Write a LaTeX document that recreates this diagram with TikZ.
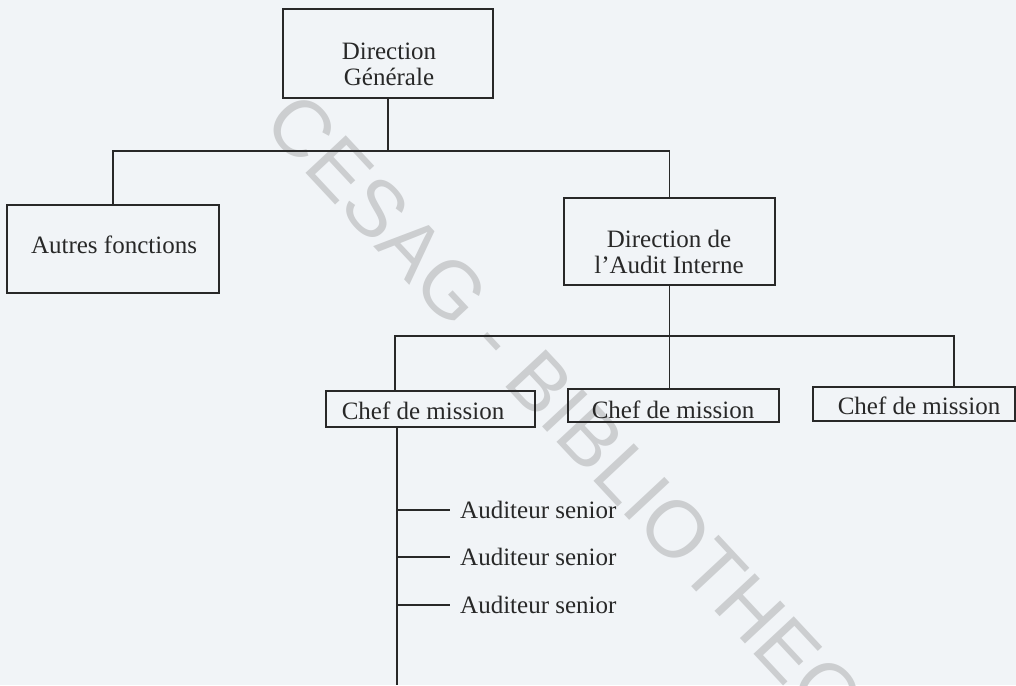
\documentclass[tikz,border=0pt]{standalone}
\usepackage{fontspec}
\setmainfont{Liberation Serif}
\newfontfamily\wmfont{Liberation Sans}
\definecolor{bgc}{RGB}{241,244,247}
\definecolor{ink}{RGB}{40,40,40}
\definecolor{wm}{RGB}{204,206,208}
\begin{document}
\begin{tikzpicture}[x=1pt,y=-1pt,
  box/.style={draw=ink, line width=1.5pt, rectangle, inner sep=0pt},
  lbl/.style={text=ink, font=\fontsize{25}{26}\selectfont, align=center, inner sep=0pt},
  conn/.style={draw=ink, line width=1.5pt},
]
\useasboundingbox (0,0) rectangle (1016,685);
\fill[bgc] (0,0) rectangle (1016,685);
\begin{scope}
\clip (0,0) rectangle (1016,685);
\node[text=wm, font=\wmfont\fontsize{80}{80}\selectfont, rotate=-47, inner sep=0pt, text height=57pt, text depth=0pt] (wmk) at (604,451) {CESAG - BIBLIOTHEQUE};
\end{scope}

\node[box, minimum width=210pt, minimum height=89pt] (dg) at (388,53.5) {};
\node[lbl] (dgt) at (389,64) {Direction\\Générale};
\node[box, minimum width=212pt, minimum height=88pt] (af) at (113,249) {};
\node[lbl] (aft) at (114,245) {Autres fonctions};
\node[box, minimum width=211pt, minimum height=87pt] (dai) at (669.5,241.5) {};
\node[lbl] (dait) at (669,251.5) {Direction de\\l’Audit Interne};
\node[box, minimum width=209pt, minimum height=36pt] (c1) at (430.5,409) {};
\node[lbl] (c1t) at (423,410.5) {Chef de mission};
\node[box, minimum width=211pt, minimum height=33pt] (c2) at (673.5,405.5) {};
\node[lbl] (c2t) at (673,410) {Chef de mission};
\node[box, minimum width=202pt, minimum height=34pt] (c3) at (914,404) {};
\node[lbl] (c3t) at (919,405.5) {Chef de mission};

\coordinate (b1) at (389,151);
\draw[conn] (dg.south) -- (dg.south |- b1);
\draw[conn] (af.north) |- (b1) -| (dai.north);

\coordinate (b2) at (672,336);
\coordinate (b2l) at (395,336);
\coordinate (b2r) at (954,336);
\draw[conn] (dai.south) -- (dai.south |- b2);
\draw[conn] (c1.north -| b2l) -- (b2l) -- (b2r) -- (c3.north -| b2r);
\draw[conn] (dai.south |- b2) -- (dai.south |- c2.north);

\coordinate (vend) at (397,685);
\draw[conn] (c1.south -| vend) -- (vend);

\node[lbl, anchor=west] (a1) at (460,510) {Auditeur senior};
\node[lbl, anchor=west] (a2) at (460,557) {Auditeur senior};
\node[lbl, anchor=west] (a3) at (460,605) {Auditeur senior};
\draw[conn] (vend |- a1.west) -- ([xshift=-10pt]a1.west);
\draw[conn] (vend |- a2.west) -- ([xshift=-10pt]a2.west);
\draw[conn] (vend |- a3.west) -- ([xshift=-10pt]a3.west);
\end{tikzpicture}
\end{document}
